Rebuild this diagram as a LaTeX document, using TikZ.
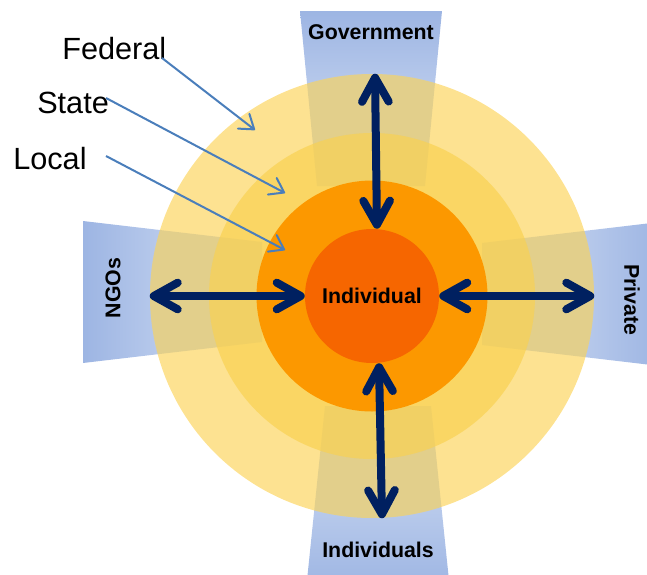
\documentclass[tikz,border=0pt]{standalone}
\usepackage{fontspec}
\setmainfont{Liberation Sans}
\usetikzlibrary{arrows.meta}
\definecolor{fedyellow}{RGB}{253,226,145}
\definecolor{stateyellow}{RGB}{250,214,100}
\definecolor{localorange}{RGB}{252,152,0}
\definecolor{indivorange}{RGB}{246,102,0}
\definecolor{banddark}{RGB}{157,181,227}
\definecolor{bandlight}{RGB}{218,228,246}
\definecolor{bandtint}{RGB}{90,110,110}
\definecolor{navy}{RGB}{0,32,96}
\definecolor{pointerblue}{RGB}{74,126,187}
\begin{document}
\begin{tikzpicture} [x=0.75pt, y=-0.75pt,
                    ring/.style={circle, inner sep=0pt, minimum size=#1},
                    bandW/.style={left color=banddark, right color=bandlight},
                    bandE/.style={right color=banddark, left color=bandlight},
                    bandN/.style={top color=banddark, bottom color=bandlight},
                    bandS/.style={bottom color=banddark, top color=bandlight},
                    sector/.style={font=\bfseries\fontsize{16}{19}\selectfont, inner sep=0pt},
                    tier/.style={font=\fontsize{23}{27}\selectfont, inner sep=0pt, anchor=base west},
                    flow/.style={navy, line width=6pt, {Straight Barb[round,length=18pt,width=20pt]}-{Straight Barb[round,length=18pt,width=20pt]}},
                    levelarrow/.style={pointerblue, line width=1.5pt, -{Straight Barb[round,length=10pt,width=14pt]}}
                ]
                \clip (0,0) rectangle (647,575);
                \coordinate (ctr) at (372,296);
                % sector bands
                \foreach \a/\b/\c/\d/\dir in {{83,221}/{262,242}/{262,342}/{83,363}/bandW, {660,222}/{482,243}/{482,345}/{660,366}/bandE,
                                              {300,11}/{442,11}/{425,186}/{317,186}/bandN, {306,590}/{450,590}/{431,406}/{325,406}/bandS}
                    \shade[\dir] (\a) -- (\b) -- (\c) -- (\d) -- cycle;
                % rings
                \node [ring=333pt, fill=fedyellow] (fedring) at (ctr) {};
                \begin{scope}
                    \clip (ctr) circle (222);
                    \foreach \a/\b/\c/\d in {{83,221}/{262,242}/{262,342}/{83,363}, {660,222}/{482,243}/{482,345}/{660,366},
                                             {300,11}/{442,11}/{425,186}/{317,186}, {306,590}/{450,590}/{431,406}/{325,406}}
                        \fill [bandtint, opacity=0.16] (\a) -- (\b) -- (\c) -- (\d) -- cycle;
                \end{scope}
                \node [ring=244.5pt, fill=stateyellow] (statering) at (ctr) {};
                \begin{scope}
                    \clip (ctr) circle (163);
                    \foreach \a/\b/\c/\d in {{83,221}/{262,242}/{262,342}/{83,363}, {660,222}/{482,243}/{482,345}/{660,366},
                                             {300,11}/{442,11}/{425,186}/{317,186}, {306,590}/{450,590}/{431,406}/{325,406}}
                        \fill [bandtint, opacity=0.05] (\a) -- (\b) -- (\c) -- (\d) -- cycle;
                \end{scope}
                \node [ring=173.25pt, fill=localorange] (localring) at (ctr) {};
                \node [ring=100.5pt, fill=indivorange, font=\bfseries\fontsize{16}{19}\selectfont] (indiv) at (ctr) {Individual};
                % links
                \draw [flow] ([xshift=2.25pt]fedring.north) -- ([xshift=3.75pt]indiv.north);
                \draw [flow] ([xshift=5.25pt]indiv.south) -- ([xshift=7.5pt]fedring.south);
                \draw [flow] (fedring.west) -- (indiv.west);
                \draw [flow] (indiv.east) -- (fedring.east);
                % sectors
                \node [sector] (gov) at (371,32) {Government};
                \node [sector, rotate=90] (ngos) at (113,288) {NGOs};
                \node [sector, rotate=-90] (private) at (632,300) {Private};
                \node [sector] (people) at (378,550) {Individuals};
                % levels
                \node [tier] (federal) at (62,59) {Federal};
                \node [tier] (state) at (37,113) {State};
                \node [tier] (local) at (13,169) {Local};
                \coordinate (federal from) at (162,58);  \coordinate (federal to) at (255,130);
                \coordinate (state from) at (106,98);    \coordinate (state to) at (285,193);
                \coordinate (local from) at (106,156);   \coordinate (local to) at (285,250);
                \draw [levelarrow] (federal from) -- (federal to);
                \draw [levelarrow] (state from) -- (state to);
                \draw [levelarrow] (local from) -- (local to);
                \end{tikzpicture}
\end{document}
